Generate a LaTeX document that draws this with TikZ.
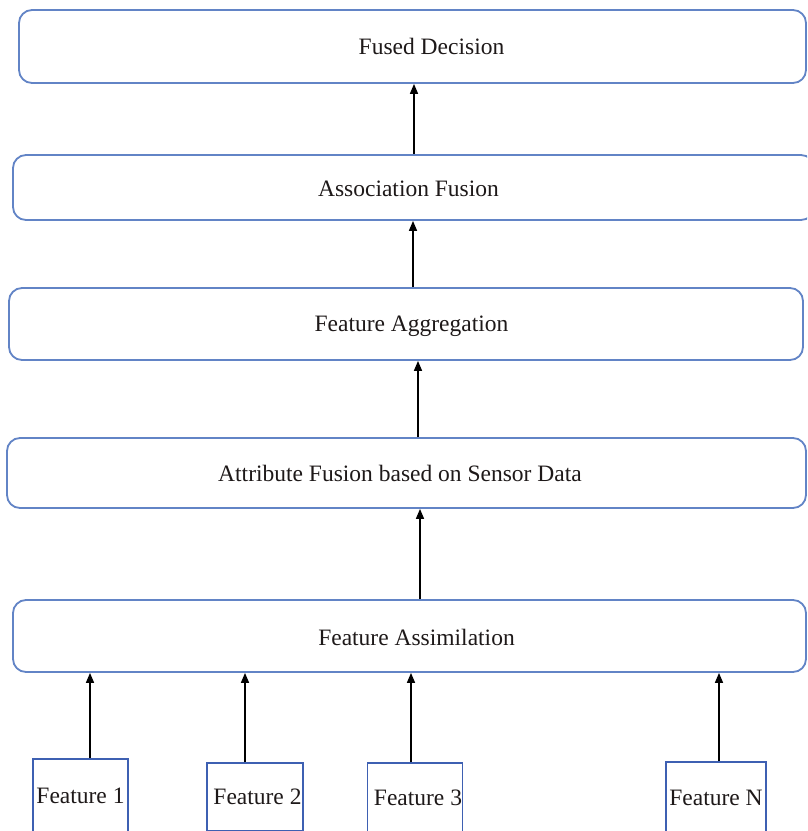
\documentclass[tikz,border=0pt]{standalone}
\usepackage{fontspec}
\setmainfont{Liberation Serif}
\usetikzlibrary{arrows.meta,calc}
\definecolor{boxblue}{RGB}{98,132,198}
\definecolor{featblue}{RGB}{62,96,178}
\definecolor{txt}{RGB}{30,25,25}
\begin{document}
\begin{tikzpicture}[x=1pt,y=-1pt,
  every label/.style={font=\fontsize{23.5}{28}\selectfont,text=txt,inner sep=0pt},
  stage/.style={draw=boxblue,line width=1.8pt,rounded corners=13pt,fill=white,
    inner sep=0pt},
  featbox/.style={draw=featblue,line width=1.4pt,fill=white,
    inner sep=0pt,font=\fontsize{23.5}{28}\selectfont,text=txt},
  arr/.style={line width=1.5pt,-{Triangle[length=10pt,width=8pt]}}]
\useasboundingbox (0,0) rectangle (807,831);
\clip (0,0) rectangle (807,831);
\fill[white] (0,0) rectangle (807,831);
% stages
\node[stage,minimum width=787pt,minimum height=73pt,
  label={[xshift=19pt]center:Fused Decision}] (b1) at (412.5,46.5) {};
\node[stage,minimum width=801pt,minimum height=65pt,
  label={[xshift=-5pt,yshift=-1pt]center:Association Fusion}] (b2) at (413.5,187.5) {};
\node[stage,minimum width=794pt,minimum height=72pt,
  label={[xshift=5.5pt,yshift=-2.5pt]center:Feature Aggregation}] (b3) at (406,324) {};
\node[stage,minimum width=799pt,minimum height=70pt,
  label={[xshift=-6.5pt]center:Attribute Fusion based on Sensor Data}] (b4) at (406.5,473) {};
\node[stage,minimum width=793pt,minimum height=72pt,
  label={[xshift=7pt,yshift=-1pt]center:Feature Assimilation}] (b5) at (409.5,636) {};
% features
\node[featbox,minimum width=95pt,minimum height=74pt] (f1) at (80.5,796) {Feature 1};
\node[featbox,minimum width=96pt,minimum height=68pt,
  label={[xshift=2.5pt]center:Feature 2}] (f2) at (255,797) {};
\node[featbox,minimum width=95pt,minimum height=70pt,
  label={[xshift=3pt]center:Feature 3}] (f3) at (415,798) {};
\node[featbox,minimum width=100pt,minimum height=72pt] (fN) at (716,798) {Feature N};
% arrows
\draw[arr] ([xshift=0.5pt]b2.north) -- ([xshift=0.5pt]b2.north |- b1.south);
\draw[arr] ([xshift=7pt]b3.north) -- ([xshift=7pt]b3.north |- b2.south);
\draw[arr] ([xshift=11.5pt]b4.north) -- ([xshift=11.5pt]b4.north |- b3.south);
\draw[arr] ([xshift=10.5pt]b5.north) -- ([xshift=10.5pt]b5.north |- b4.south);
\draw[arr] ([xshift=9.5pt]f1.north) -- ([xshift=9.5pt]f1.north |- b5.south);
\draw[arr] ([xshift=-10pt]f2.north) -- ([xshift=-10pt]f2.north |- b5.south);
\draw[arr] ([xshift=-4pt]f3.north) -- ([xshift=-4pt]f3.north |- b5.south);
\draw[arr] ([xshift=3pt]fN.north) -- ([xshift=3pt]fN.north |- b5.south);
\end{tikzpicture}
\end{document}
